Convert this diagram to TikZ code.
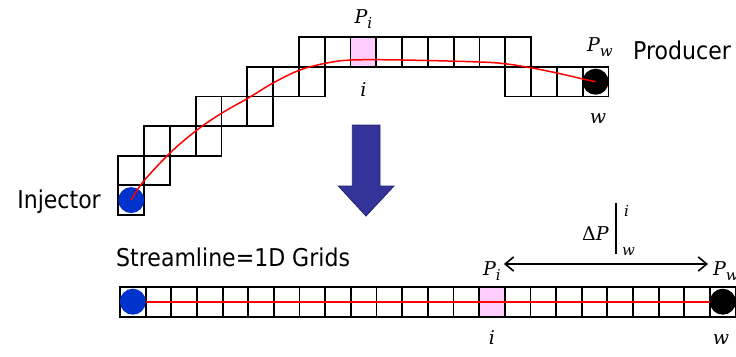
\documentclass[tikz,border=0pt]{standalone}
\usepackage{fontspec}
\newfontfamily\labfont{DejaVu Sans}[FakeStretch=0.9]
\newfontfamily\labserif{DejaVu Serif}
\usepackage{tikz}
\usetikzlibrary{positioning,arrows.meta}
\definecolor{injblue}{RGB}{0,51,204}
\definecolor{cellpink}{RGB}{255,204,255}
\definecolor{arrowblue}{RGB}{51,51,153}
\definecolor{arrowedge}{RGB}{36,36,110}
\newcommand{\cw}{25.8}
\newcommand{\ch}{29.6}
\newcommand{\bw}{25.65}
\newcommand{\lowidx}[1]{\raisebox{-0.28em}{\fontsize{15bp}{16bp}\selectfont #1}}

\begin{document}
\begin{tikzpicture}[
  x=1bp, y=-1bp,
  cell/.style={draw, line width=1.8bp},
  lab/.style={font=\fontsize{24.5bp}{29bp}\labfont, inner sep=0pt},
  mlab/.style={font=\fontsize{19bp}{23bp}\labserif\itshape, inner sep=0pt},
  slab/.style={font=\fontsize{15bp}{17bp}\labserif\itshape, inner sep=0pt},
  well/.style={circle, inner sep=0pt, minimum size=26bp},
  flow/.style={red, line width=1.5bp},
  >={Straight Barb[length=3mm,width=5mm]}
]
\useasboundingbox (0,0) rectangle (736,356);
\fill[cellpink] ({118.3+9*\cw},37.3) rectangle ++(\cw,\ch);
\foreach \c/\r in {0/6,0/5,1/5,1/4,2/4,3/4,3/3,4/3,5/3,5/2,6/2,7/2,15/2,16/2,17/2,18/2}
  \draw[cell] ({118.3+\c*\cw},{37.3+(\r-1)*\ch}) rectangle ++(\cw,\ch);
\foreach \c in {7,...,15}
  \draw[cell] ({118.3+\c*\cw},37.3) rectangle ++(\cw,\ch);
\node[well, fill=injblue] (inj) at ({118.3+0.5*\cw},{37.3+5.5*\ch}) {};
\node[well, fill=black] (prod) at ({118.3+18.5*\cw},{37.3+1.5*\ch}) {};
\draw[flow] plot[smooth, tension=0.6] coordinates {(inj.center) (143,182) (170,153) (197,130) (222,113) (250,97) (273,83) (300,70) (327,63) (352,60) (403,60) (480,62) (507,64) (532,68) (557,73) (583,79) (prod.center)};
\node[mlab] (pi) at ({118.3+9.5*\cw},19) {P\lowidx{i}};
\node[mlab] (itop) at ({118.3+9.5*\cw},90) {i};
\node[mlab] (pw) at (600,47) {P\lowidx{w}};
\node[mlab] (wtop) at (598,119) {w};
\node[lab, anchor=west] (prodlab) at (633,50) {Producer};
\node[lab, anchor=east] (injlab) at (101,202) {Injector};
\draw[arrowedge, line width=0.8bp, fill=arrowblue] (352.3,125) -- (380,125) -- (380,186) -- (394,186) -- (366,216) -- (338.3,186) -- (352.3,186) -- cycle;
\node[lab, anchor=west] (sl) at (116,257) {Streamline=1D Grids};
\fill[cellpink] ({120+14*\bw},286.7) rectangle ++(\bw,30);
\foreach \c in {0,...,23}
  \draw[cell] ({120+\c*\bw},286.7) rectangle ++(\bw,30);
\node[well, fill=injblue] (inj2) at ({120+0.5*\bw},301.7) {};
\node[well, fill=black] (prod2) at ({120+23.5*\bw},301.7) {};
\draw[flow, line width=2.2bp] (inj2) -- (prod2);
\node[mlab] (pib) at ({120+14.5*\bw},271) {P\lowidx{i}};
\node[mlab] (ibot) at ({120+14.5*\bw},338) {i};
\node[mlab] (pwb) at (726,271) {P\lowidx{w}};
\node[mlab] (wbot) at (721,340) {w};
\node[mlab, anchor=base west] (dp) at (582,240) {{\upshape Δ}P};
\draw[line width=1.3bp] ([xshift=7bp,yshift=30bp]dp.east) -- ([xshift=7bp,yshift=-21bp]dp.east);
\node[slab, anchor=base west] (dpsup) at (624,216) {i};
\node[slab, anchor=base west] (dpsub) at (622,255) {w};
\draw[<->, line width=1.6bp] ([xshift=3bp,yshift=7bp]pib.east) -- ([xshift=-5bp,yshift=7bp]pwb.west);
\end{tikzpicture}
\end{document}
